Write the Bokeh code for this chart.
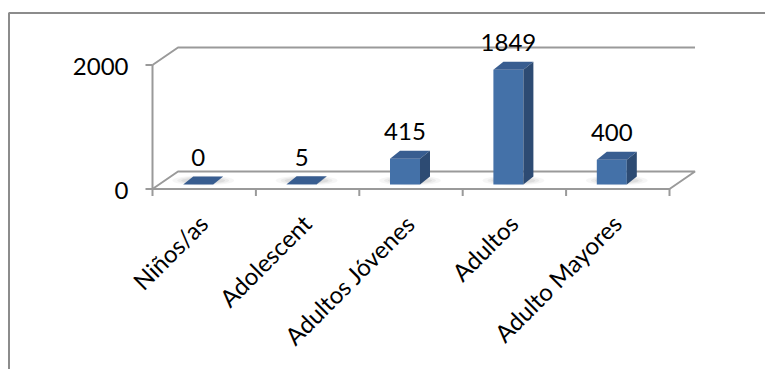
from bokeh.plotting import figure
from bokeh.models import Range1d
from bokeh.embed import file_html
from bokeh.resources import INLINE
from bokeh.core.properties import value

# ---- data -------------------------------------------------------------
categories = ["Niños/as", "Adolescent", "Adultos Jóvenes", "Adultos", "Adulto Mayores"]
counts = [0, 5, 415, 1849, 400]
y_ticks = [0, 2000]
y_tick_labels = ["0", "2000"]

# ---- page geometry ----------------------------------------------------
W, H = 765, 369
X0_PX = 152.0     # screen column of the front-left floor corner
CAT_PX = 103.4    # screen pixels per category
Y0_PX = 188.5     # screen row of the front floor edge
VAL_PX = 0.062    # screen pixels per unit of value

FONT = value("Lato")
FONT_SIZE = "24px"
GRID = "#9a9a9a"
FRONT, TOP, SIDE = "#4471a8", "#385d90", "#2d4b73"


def dx(px):
    """horizontal screen distance -> data distance"""
    return px / CAT_PX


def dy(px):
    """upward screen distance -> data distance"""
    return px / VAL_PX


def sx(px):
    return (px - X0_PX) / CAT_PX


def sy(py):
    return (Y0_PX - py) / VAL_PX


p = figure(width=W, height=H, output_backend="svg", toolbar_location=None,
           x_range=Range1d(sx(0), sx(W)), y_range=Range1d(sy(H), sy(0)),
           min_border=0, outline_line_color=None)
p.axis.visible = False
p.grid.visible = False
p.background_fill_color = "white"
p.border_fill_color = "white"

# chart area border (top and left edges)
p.line([sx(8.5), sx(8.5), sx(W)], [sy(H), sy(12.5), sy(12.5)],
       line_color="#8c8c8c", line_width=2)

n = len(categories)
FLOOR_DX, FLOOR_DY = dx(25.5), dy(17.5)

# floor
p.patch([0, n, n + FLOOR_DX, FLOOR_DX], [0, 0, FLOOR_DY, FLOOR_DY],
        fill_color="white", line_color=GRID, line_width=2)

# side wall diagonal and back gridline at the top tick
top = y_ticks[-1]
p.line([0, FLOOR_DX, n + FLOOR_DX], [top, top + FLOOR_DY, top + FLOOR_DY],
       line_color=GRID, line_width=2)

# value axis with ticks
p.line([0, 0], [0, top], line_color=GRID, line_width=2)
p.segment(x0=[dx(-7)] * len(y_ticks), y0=y_ticks, x1=[0] * len(y_ticks), y1=y_ticks,
          line_color=GRID, line_width=2)
p.text(x=[dx(-24)] * len(y_ticks), y=[t - dy(1) for t in y_ticks], text=y_tick_labels,
       text_align="right", text_baseline="middle", text_font=FONT,
       text_font_size=FONT_SIZE, text_color="black")

# category ticks
p.segment(x0=list(range(n + 1)), y0=[0] * (n + 1), x1=list(range(n + 1)),
          y1=[-dy(7)] * (n + 1), line_color=GRID, line_width=2)

# bars as prisms
BAR_W = dx(30)
BAR_DX, BAR_DY = dx(10), dy(8)
BAR_Z = dy(4.5)
centers = [i + 0.5 - dx(6) for i in range(n)]
lefts = [c - BAR_W / 2 for c in centers]
rights = [c + BAR_W / 2 for c in centers]
tops = [BAR_Z + v for v in counts]

# soft floor shadows around each bar base
for w_px, h_px, a in [(62, 10, 0.035), (52, 8, 0.045), (44, 6, 0.06)]:
    p.ellipse(x=[c + BAR_DX / 2 for c in centers], y=[BAR_Z + BAR_DY / 2] * n,
              width=dx(w_px), height=dy(h_px), fill_color="black", fill_alpha=a,
              line_color=None)

p.quad(left=lefts, right=rights, bottom=[BAR_Z] * n, top=tops,
       fill_color=FRONT, line_color=None)
p.patches(xs=[[l, r, r + BAR_DX, l + BAR_DX] for l, r in zip(lefts, rights)],
          ys=[[t, t, t + BAR_DY, t + BAR_DY] for t in tops],
          fill_color=TOP, line_color=None)
p.patches(xs=[[r, r, r + BAR_DX, r + BAR_DX] for r in rights],
          ys=[[BAR_Z, t, t + BAR_DY, BAR_Z + BAR_DY] for t in tops],
          fill_color=SIDE, line_color=None)

# value labels
p.text(x=centers, y=[t + dy(27) for t in tops], text=[str(v) for v in counts],
       text_align="center", text_baseline="middle", text_font=FONT,
       text_font_size=FONT_SIZE, text_color="black")

# rotated category labels
p.text(x=[i + 0.5 + dx(-1) for i in range(n)], y=[-dy(30)] * n, text=categories,
       angle=0.7854, text_align="right", text_baseline="middle", text_font=FONT,
       text_font_size=FONT_SIZE, text_color="black")

open("out.html", "w").write(file_html(p, INLINE))
